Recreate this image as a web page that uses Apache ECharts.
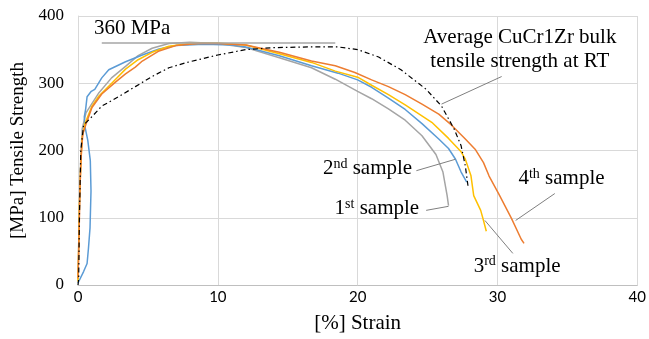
<!DOCTYPE html>
<html>
<head>
<meta charset="utf-8">
<script src="https://cdn.jsdelivr.net/npm/echarts@6/dist/echarts.min.js"></script>
<style>html,body{margin:0;padding:0;background:#fff}#c{width:649px;height:339px}</style>
</head>
<body>
<div id="c"></div>
<script>
// ---- data (strain %, stress MPa) ----
const xTicks = [0, 10, 20, 30, 40];
const yTicks = [0, 100, 200, 300, 400];

const strain1 = [0, 0.05, 0.1, 0.2, 0.3, 0.57, 1.5, 2.4, 3.4, 4.3, 5.3, 6.5, 8, 10, 12, 14.4, 16.7, 18.4, 20, 21, 22.2, 23.4, 24.6, 25.6, 26.1, 26.4, 26.5];
const stress1 = [8, 60, 120, 190, 232, 256, 286, 308, 325, 341, 352, 359, 361, 359, 353, 338, 323, 306, 288, 277, 262, 245, 222, 194, 168, 133, 118];

const strain2 = [0, 0.4, 0.65, 0.75, 0.86, 0.93, 0.88, 0.7, 0.5, 0.45, 0.55, 0.65, 0.95, 1.2, 1.7, 2.2, 3.4, 4.6, 5.8, 7, 9, 11, 12, 14.4, 16.7, 18.6, 20, 21, 22.2, 23.4, 24.6, 25.8, 26.5, 27, 27.4, 27.8];
const stress2 = [3, 20, 32, 55, 85, 140, 185, 215, 235, 250, 262, 280, 288, 291, 308, 320, 332, 342, 351, 356, 358, 357, 354, 341, 326, 315, 305, 294, 278, 261, 240, 217, 203, 187, 168, 153];

const strain3 = [0, 0.05, 0.1, 0.2, 0.3, 0.5, 1, 1.5, 2.5, 3.4, 4.3, 5.3, 6.5, 8, 10, 12, 14.4, 16.7, 18.4, 20, 21, 22.2, 23.4, 25.3, 26.5, 27.4, 27.7, 28.1, 28.3, 28.8, 29, 29.2];
const stress3 = [5, 60, 120, 180, 220, 240, 266, 281, 302, 321, 335, 346, 355, 359, 360, 357, 344, 331, 318, 309, 297, 283, 268, 242, 218, 198, 187, 163, 133, 111, 96, 80];

const strain4 = [0, 0.05, 0.1, 0.15, 0.25, 0.35, 0.55, 1, 1.7, 2.7, 3.4, 4.1, 4.6, 5.8, 7, 8.6, 10, 12, 14.4, 16.7, 18.4, 19.8, 21, 22.2, 23.4, 24.6, 25.8, 26.7, 27.7, 28.4, 29, 29.4, 30.1, 31, 31.7, 31.9];
const stress4 = [10, 50, 100, 150, 200, 225, 238, 264, 284, 302, 314, 324, 333, 348, 356, 359, 359, 357, 346, 333, 326, 316, 305, 295, 283, 269, 254, 238, 217, 202, 182, 162, 135, 99, 68, 62];

const strainAvg = [0, 0.05, 0.1, 0.2, 0.4, 0.8, 1.7, 2.9, 4.1, 5.3, 6.5, 7.8, 10, 12, 14, 16.5, 18.6, 20, 21.5, 23.1, 24.9, 26, 26.9, 27.4, 27.7, 27.9];
const stressAvg = [0, 10, 100, 200, 238, 246, 266, 280, 295, 310, 323, 331, 342, 350, 353, 354, 354, 350, 339, 320, 291, 266, 232, 207, 177, 146];

const refLevel = 360;          // MPa reference line
const refRange = [1.7, 18.4];  // strain extent of reference line

// leader lines (data coords): [from, to]
const leaders = [
  [[30.3, 310], [26.0, 269]],   // average
  [[24.2, 170], [27.0, 187]],   // 2nd
  [[24.9, 111], [26.5, 117]],   // 1st
  [[31.1, 47], [29.1, 96]],     // 3rd
  [[34.1, 136], [31.3, 96]]     // 4th
];

const zip = (a, b) => a.map((v, i) => [v, b[i]]);
const serif = 'Liberation Serif, Times New Roman, serif';

const chart = echarts.init(document.getElementById('c'), null, {renderer: 'canvas'});

function mkLine(name, xs, ys, color, extra) {
  return Object.assign({
    name, type: 'line', data: zip(xs, ys), showSymbol: false, symbol: 'none',
    lineStyle: {color, width: 1.5}, itemStyle: {color}, animation: false, z: 3
  }, extra || {});
}

chart.setOption({
  animation: false,
  grid: {left: 78, right: 10, top: 16, bottom: 52},
  xAxis: {
    type: 'value', min: xTicks[0], max: xTicks[xTicks.length - 1], interval: 10,
    name: '[%] Strain', nameLocation: 'middle', nameGap: 28,
    nameTextStyle: {fontFamily: serif, fontSize: 21, color: '#000'},
    axisLine: {show: true, lineStyle: {color: '#BFBFBF'}},
    axisTick: {show: false},
    axisLabel: {fontFamily: 'Lato, sans-serif', fontSize: 15, color: '#000', margin: 5},
    splitLine: {show: true, lineStyle: {color: '#D9D9D9'}}
  },
  yAxis: {
    type: 'value', min: yTicks[0], max: yTicks[yTicks.length - 1], interval: 100,
    name: '[MPa] Tensile Strength', nameLocation: 'middle', nameGap: 40,
    nameTextStyle: {fontFamily: serif, fontSize: 19, color: '#000'},
    axisLine: {show: true, lineStyle: {color: '#D9D9D9'}},
    axisTick: {show: false},
    axisLabel: {fontFamily: serif, fontSize: 17, color: '#000', margin: 14, padding: [5, 0, 0, 0]},
    splitLine: {show: true, lineStyle: {color: '#D9D9D9'}}
  },
  series: [
    mkLine('1st sample', strain1, stress1, '#A5A5A5'),
    mkLine('2nd sample', strain2, stress2, '#5B9BD5'),
    mkLine('3rd sample', strain3, stress3, '#FFC000'),
    mkLine('4th sample', strain4, stress4, '#ED7D31'),
    mkLine('Average', strainAvg, stressAvg, '#000', {
      lineStyle: {color: '#000', width: 1.2, type: [5, 3, 1.5, 3]}, z: 4,
      markLine: {
        silent: true, symbol: 'none', animation: false,
        label: {show: false},
        data: [
          [{coord: [refRange[0], refLevel], lineStyle: {color: '#A6A6A6', width: 1.5, type: 'solid'}},
           {coord: [refRange[1], refLevel]}]
        ].concat(leaders.map(l => [
          {coord: l[0], lineStyle: {color: '#7F7F7F', width: 1, type: 'solid'}},
          {coord: l[1]}
        ]))
      }
    })
  ]
});

// annotation texts placed by data coordinates
function px(x, y) { return chart.convertToPixel({gridIndex: 0}, [x, y]); }
const big = {fontFamily: serif, fontSize: 21, fill: '#000'};
function txt(pos, text, align, rich) {
  return {
    type: 'text', x: pos[0], y: pos[1], z: 10,
    style: Object.assign({}, big, {text, align, verticalAlign: 'middle', rich})
  };
}
const supRich = {
  n: {fontFamily: serif, fontSize: 21, color: '#000'},
  s: {fontFamily: serif, fontSize: 14, color: '#000', padding: [0, 0, 9, 0]}
};
chart.setOption({
  graphic: [
    txt(px(1.14, 382), '360 MPa', 'left'),
    txt(px(31.6, 367.5), 'Average CuCr1Zr bulk', 'center'),
    txt(px(31.6, 332), 'tensile strength at RT', 'center'),
    txt(px(23.9, 173), '{n|2}{s|nd}{n| sample}', 'right', supRich),
    txt(px(24.4, 114), '{n|1}{s|st}{n| sample}', 'right', supRich),
    txt(px(28.3, 28), '{n|3}{s|rd}{n| sample}', 'left', supRich),
    txt(px(31.5, 158), '{n|4}{s|th}{n| sample}', 'left', supRich)
  ]
});
</script>
</body>
</html>
